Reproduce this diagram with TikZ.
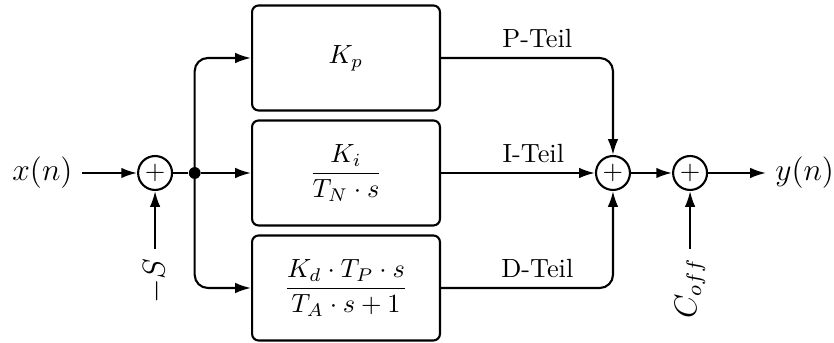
\documentclass[tikz,border=0pt]{standalone}
\usepackage{amsmath}
\usepackage{amssymb}
\usetikzlibrary{arrows.meta, positioning}

\begin{document}
\begin{tikzpicture}[x=0.38pt, y=-0.38pt,
  box/.style={draw, thick, rounded corners=2.5pt, minimum width=71.4pt,
              minimum height=39.9pt, align=center},
  sum/.style={draw, thick, circle, minimum size=12.9pt, inner sep=0pt},
  dot/.style={circle, fill, inner sep=0pt, minimum size=4.5pt},
  signal/.style={font=\large},
  arr/.style={-{Latex[length=6pt, width=4pt]}, thick},
  corner/.style={rounded corners=5pt}
]
\useasboundingbox (0,0) rectangle (834,343);
\node[box] (iteil) at (346,173) {$\dfrac{K_i}{T_N\cdot s}$};
\node[box, above=3pt of iteil] (pteil) {$K_p$};
\node[box, below=3pt of iteil] (dteil) {$\dfrac{K_d\cdot T_P\cdot s}{T_A\cdot s+1}$};
\node[sum, left=29.6pt of iteil] (sum1) {$+$};
\node[dot, right=5.75pt of sum1] (split) {};
\node[signal, left=21pt of sum1] (xin) {$x(n)$};
\coordinate[below=22pt of sum1] (sin);
\node[signal, rotate=90, anchor=east] (soff) at (sin) {$-S$};
\node[sum, right=58.5pt of iteil] (sum2) {$+$};
\node[sum, right=15.6pt of sum2] (sum3) {$+$};
\node[signal, right=22pt of sum3] (yout) {$y(n)$};
\coordinate[below=22pt of sum3] (cin);
\node[signal, rotate=90, anchor=east] (coff) at (cin) {$C_{off}$};
% Eingang
\draw[arr] (xin) -- (sum1);
\draw[arr] (sin) -- (sum1);
\draw[thick] (sum1) -- (split);
\draw[arr] (split) -- (iteil);
\draw[arr, corner] (split.center) |- (pteil);
\draw[arr, corner] (split.center) |- (dteil);
% Ausgang
\draw[arr, corner] (pteil) -| node[above, pos=0.28] {P-Teil} (sum2);
\draw[arr] (iteil) -- node[above, pos=0.6] {I-Teil} (sum2);
\draw[arr, corner] (dteil) -| node[above, pos=0.28] {D-Teil} (sum2);
\draw[arr] (sum2) -- (sum3);
\draw[arr] (cin) -- (sum3);
\draw[arr] (sum3) -- (yout);
\end{tikzpicture}
\end{document}
